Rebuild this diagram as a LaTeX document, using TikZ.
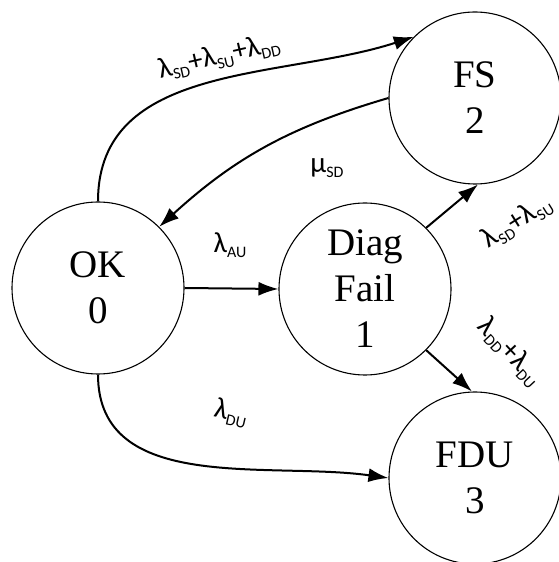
\documentclass[tikz,border=0pt]{standalone}
\usepackage{fontspec}
\setmainfont{Liberation Serif}
\newfontfamily\labfont{Carlito}
\usetikzlibrary{arrows.meta}
\newcommand\lsb[1]{\raisebox{-0.35ex}{\fontsize{16}{16}\selectfont #1}}
\begin{document}
\begin{tikzpicture}[x=1pt,y=1pt,
  state/.style={circle, draw, line width=1.1pt, minimum size=172pt, inner sep=0pt,
    align=center, font=\fontsize{39}{46}\selectfont},
  trans/.style={line width=2pt, -{Latex[length=20pt,width=14pt]}},
  lab/.style={font=\labfont\fontsize{29}{30}\selectfont, inner sep=0pt}]
\useasboundingbox (0,0) rectangle (558,562);
\node[state] (ok) at (98,274) {OK\\0};
\node[state] (diag) at (365,273) {Diag\\Fail\\1};
\node[state] (fs) at (475,464) {FS\\2};
\node[state] (fdu) at (475,84) {FDU\\3};

\draw[trans] (ok.90) to[out=90,in=198] (fs.135);
\draw[trans] (fs.180) to[bend right=13] (ok.45);
\draw[trans] (ok.east) -- (diag.west);
\draw[trans] (diag.45) -- (fs.272);
\draw[trans] (diag.-45) -- (fdu.92);
\draw[trans] (ok.270) to[out=270,in=172] (fdu.180);

\node[lab, rotate=13] (l1) at (219,505) {λ\lsb{SD}+λ\lsb{SU}+λ\lsb{DD}};
\node[lab] (l2) at (327,394) {μ\lsb{SD}};
\node[lab] (l3) at (230,317) {λ\lsb{AU}};
\node[lab, rotate=32] (l4) at (517,340) {λ\lsb{SD}+λ\lsb{SU}};
\node[lab, rotate=-47] (l5) at (510,210) {λ\lsb{DD}+λ\lsb{DU}};
\node[lab, rotate=-13] (l6) at (231,149) {λ\lsb{DU}};
\end{tikzpicture}
\end{document}
